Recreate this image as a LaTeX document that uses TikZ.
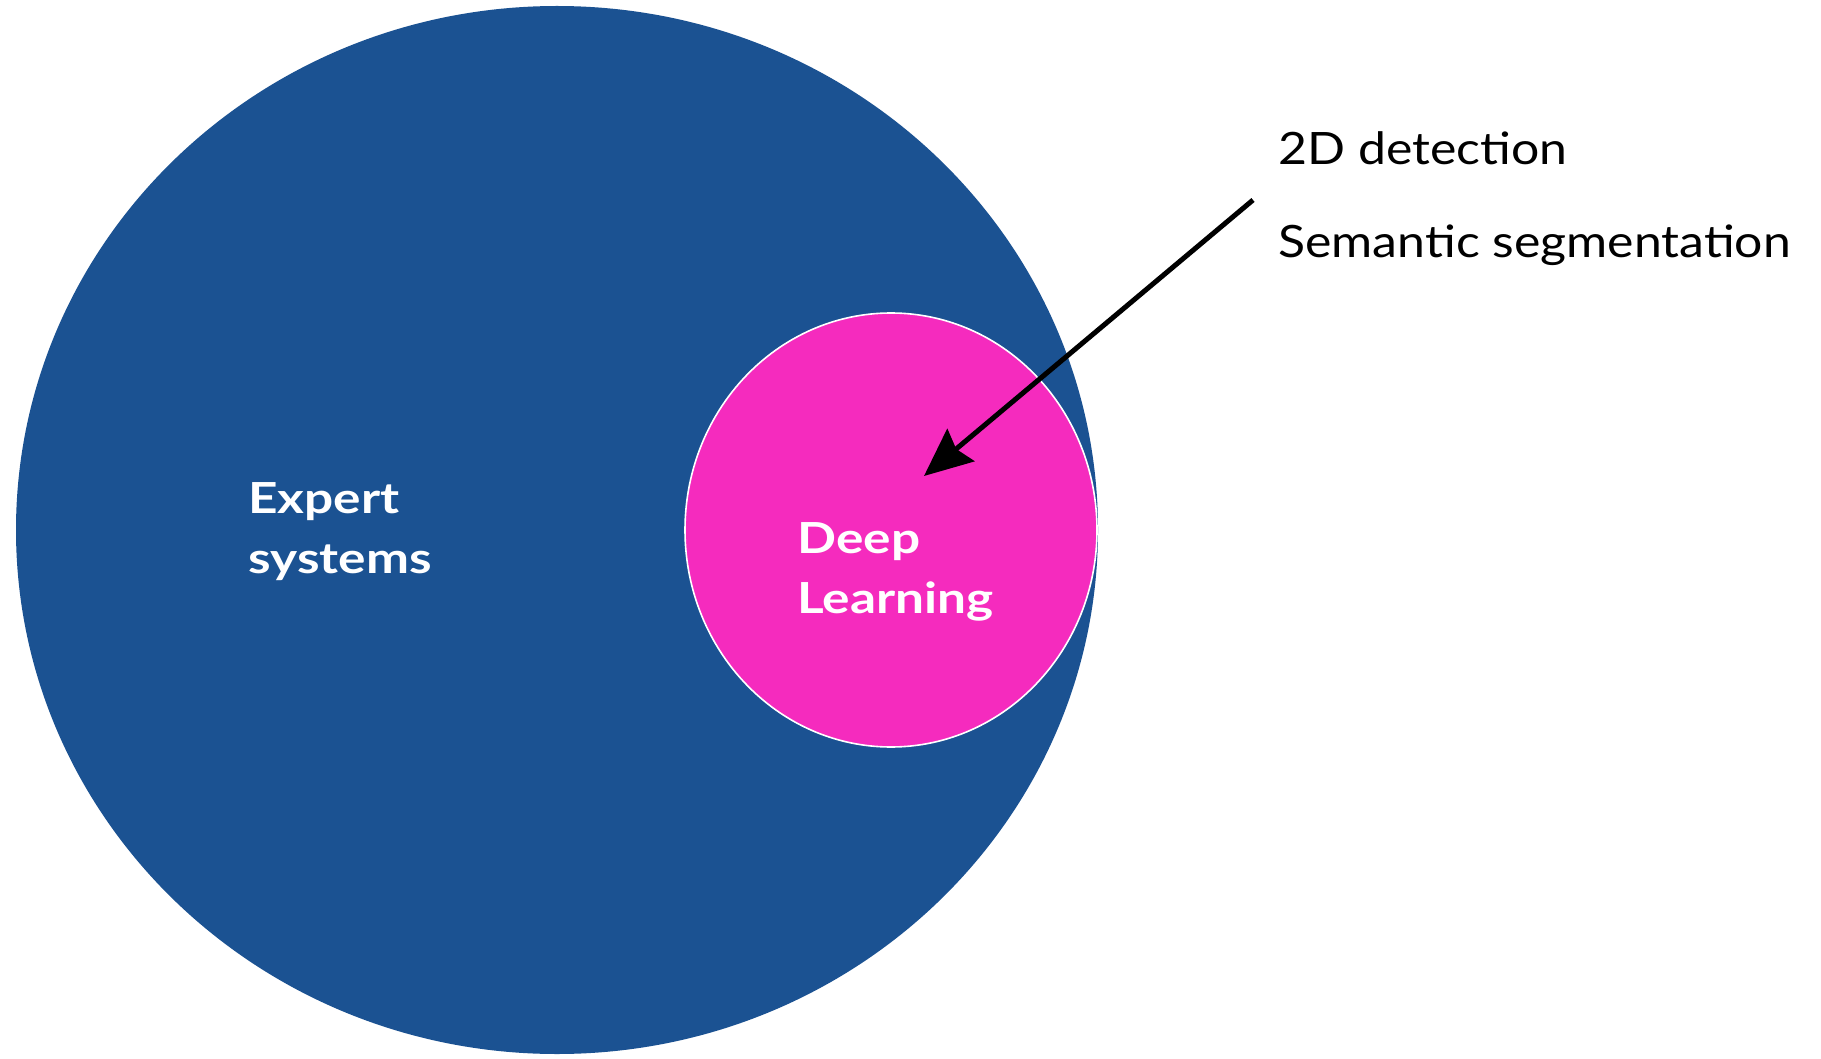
\documentclass[tikz,border=0pt]{standalone}
\usepackage{fontspec}
\setmainfont{Lato}
\newfontfamily\sidefont{Lato}[FakeStretch=1.12]
\newfontfamily\boldlabelfont{Lato}[FakeStretch=1.2]
\usetikzlibrary{shapes.geometric,arrows.meta}
\definecolor{bigblue}{RGB}{27,82,146}
\definecolor{dlpink}{RGB}{245,43,190}
\tikzset{
  whitelabel/.style={text=white, font=\boldlabelfont\bfseries\fontsize{21.4}{30}\selectfont, align=left, inner sep=0pt, anchor=north west},
  sidelabel/.style={text=black, font=\sidefont\fontsize{22.3}{30}\selectfont, inner sep=0pt, anchor=base west},
  pointer/.style={line width=2.5pt, -{Stealth[length=24pt,width=21pt,inset=3pt]}}
}
\begin{document}
\begin{tikzpicture}[x=0.5pt,y=-0.5pt]
\useasboundingbox[fill=white] (0,0) rectangle (1821,1059);
\node[ellipse, fill=bigblue, inner sep=0pt, minimum width=1082*0.5pt, minimum height=1048*0.5pt] (expertcirc) at (557,530) {};
\node[ellipse, fill=dlpink, draw=white, line width=0.8pt, inner sep=0pt, minimum width=412*0.5pt, minimum height=434*0.5pt] (dlcirc) at (891,530) {};
\node[whitelabel] (expert) at (248,482) {Expert\\systems};
\node[whitelabel] (deep) at (797,522) {Deep\\Learning};
\node[sidelabel] (det) at (1278,165) {2D detection};
\node[sidelabel] (seg) at (1278,258) {Semantic segmentation};
\coordinate (tail) at (1253,200);
\coordinate (tip) at (924,476);
\draw[pointer] (tail) -- (tip);
\end{tikzpicture}
\end{document}
